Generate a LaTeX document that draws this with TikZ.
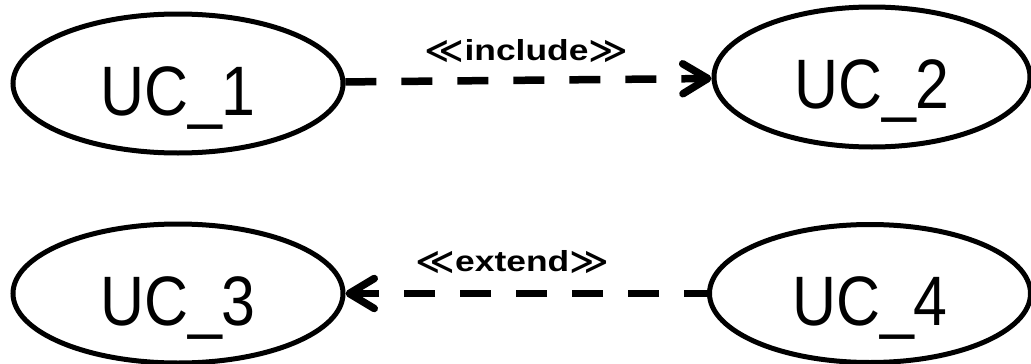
\documentclass[tikz,border=0pt]{standalone}
\usepackage{fontspec}
\setmainfont{Liberation Sans}
\newfontfamily\ucfont[FakeStretch=0.87]{Liberation Sans}
\newfontfamily\stereofont[FakeStretch=1.22]{Liberation Sans}
\newfontfamily\guillfont{DejaVu Sans}
\usetikzlibrary{shapes.geometric,arrows.meta}

\tikzset{
  usecase/.style={ellipse, draw, line width=5pt, inner sep=0pt,
    minimum width=330pt, minimum height=139pt,
    font=\ucfont\fontsize{70}{84}\selectfont,
    text height=70pt, text depth=7pt},
  relation/.style={line width=7.5pt, dash pattern=on 31pt off 25pt},
  barb/.style={-{Straight Barb[length=25pt,width=30pt,round]}},
  stereo/.style={anchor=base, inner sep=0pt,
    font=\fontsize{29}{34}\selectfont},
}
% double angle brackets around a stereotype name
\newcommand{\dblangle}[1]{\raisebox{-3pt}{\guillfont\fontsize{38}{40}\selectfont #1}}
\newcommand{\stereotype}[1]{\dblangle{≪}{\stereofont\bfseries #1}\dblangle{≫}}

\begin{document}
\begin{tikzpicture}[x=1pt,y=-1pt]
  \useasboundingbox (0,0) rectangle (1031,364);

  % use cases
  \node[usecase] (uc1) at (178,83.5) {UC\_1};
  \node[usecase, minimum width=316pt, minimum height=140pt] (uc2) at (872,77) {UC\_2};
  \node[usecase] (uc3) at (178,293.5) {UC\_3};
  \node[usecase, minimum width=321pt, minimum height=138pt] (uc4) at (870,293.5) {UC\_4};

  % include relation
  \draw[relation, barb] (uc1) -- (uc2)
    node[stereo, midway, xshift=-2pt, yshift=19.5pt] (inc) {\stereotype{include}};

  % extend relation
  \draw[relation, barb, dash phase=8pt] (uc4) -- (uc3)
    node[stereo, midway, xshift=-14pt, yshift=22pt] (ext) {\stereotype{extend}};
\end{tikzpicture}
\end{document}
